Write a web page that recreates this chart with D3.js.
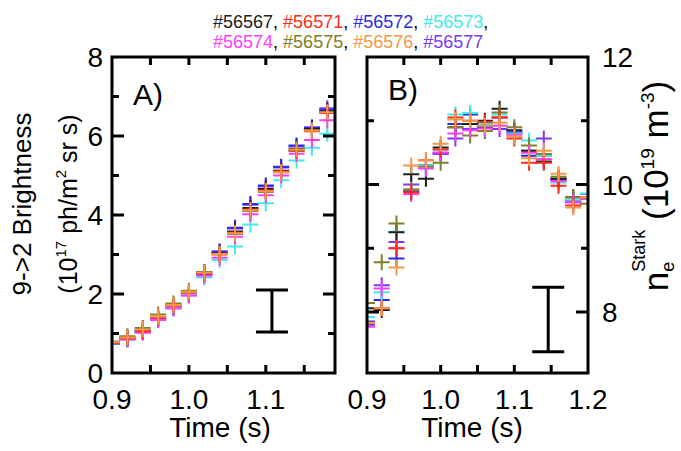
<!DOCTYPE html>
<html><head><meta charset="utf-8">
<script src="https://cdn.jsdelivr.net/npm/d3@7"></script>
<style>body{margin:0;background:#fff}svg{display:block}text{font-family:"Liberation Sans",Arial,sans-serif}</style>
</head><body><svg id="c" width="681" height="451"></svg>
<script>
const shots = ["#56567","#56571","#56572","#56573","#56574","#56575","#56576","#56577"];
const colors = ["#202020","#ff2a1a","#2a2ae8","#40ecec","#ff3cff","#808024","#f49848","#7a38f4"];
const drawOrder = [7,2,3,0,5,4,1,6];
const times = [0.90,0.92,0.94,0.96,0.98,1.00,1.02,1.04,1.06,1.08,1.10,1.12,1.14,1.16,1.18,1.20];
// Panel A: 9->2 brightness (1e17 ph/m2 sr s)
const brightBlack   = [0.78,0.90,1.08,1.42,1.72,2.05,2.55,3.03,3.58,4.18,4.66,5.12,5.68,6.18,6.62,7.20];
const brightRed     = [0.76,0.88,1.06,1.40,1.70,2.03,2.52,3.00,3.55,4.14,4.62,5.10,5.64,6.12,6.58,7.25];
const brightBlue    = [0.74,0.86,1.05,1.36,1.66,1.98,2.50,3.06,3.68,4.28,4.75,5.22,5.76,6.20,6.66,7.28];
const brightCyan    = [0.75,0.87,1.04,1.35,1.66,1.98,2.42,2.86,3.20,3.76,4.30,4.88,5.38,5.70,6.06,6.94];
const brightMagenta = [0.77,0.86,1.02,1.34,1.64,1.96,2.46,2.92,3.45,4.02,4.50,5.00,5.55,5.90,6.40,7.00];
const brightOlive   = [0.80,0.93,1.14,1.48,1.76,2.08,2.56,3.02,3.52,4.10,4.58,5.08,5.62,6.14,6.58,7.10];
const brightOrange  = [0.78,0.90,1.10,1.43,1.72,2.06,2.54,3.01,3.54,4.12,4.60,5.08,5.66,6.14,6.60,7.34];
const brightPurple  = [0.74,0.85,1.04,1.36,1.64,1.97,2.50,3.08,3.66,4.26,4.72,5.20,5.74,6.22,6.70,7.15];
// Panel B: Stark density (1e19 m^-3)
const neBlack   = [8.06,8.03,9.25,10.16,10.09,10.58,10.90,10.95,11.00,11.19,10.85,10.53,10.36,10.09,9.80,9.78];
const neRed     = [7.83,8.06,9.00,9.88,10.38,10.55,11.05,11.00,10.98,11.05,10.72,10.34,10.34,9.98,9.67,9.80];
const neBlue    = [7.85,8.19,8.84,9.90,10.30,10.50,10.95,11.10,10.90,11.05,10.82,10.45,10.45,10.09,9.75,10.00];
const neCyan    = [7.92,8.31,9.26,9.92,10.30,10.55,11.10,11.12,10.95,11.10,10.80,10.69,10.45,10.03,9.76,9.86];
const neMagenta = [7.77,8.37,9.00,9.85,10.25,10.50,10.80,10.85,10.88,10.92,10.78,10.50,10.40,10.05,9.72,9.78];
const neOlive   = [8.14,8.78,9.39,9.92,10.28,10.34,10.90,10.77,10.84,11.13,10.90,10.61,10.48,10.12,9.80,9.70];
const neOrange  = [7.83,8.06,8.70,10.30,10.38,10.64,11.02,11.00,10.92,10.97,10.75,10.41,10.53,10.17,9.64,9.80];
const nePurple  = [7.80,8.42,9.10,10.00,10.30,10.48,10.72,10.87,10.92,10.87,10.80,10.53,10.72,10.07,9.72,9.85];
const brightSeries = [brightBlack,brightRed,brightBlue,brightCyan,brightMagenta,brightOlive,brightOrange,brightPurple];
const neSeries = [neBlack,neRed,neBlue,neCyan,neMagenta,neOlive,neOrange,nePurple];
// error bars
const errA = {t:1.108, lo:1.04, hi:2.10};
const errB = {t:1.146, lo:7.375, hi:8.39};
const xTickVals = [0.95,1.0,1.05,1.1,1.15];
const xLabelsA = ["0.9","1.0","1.1"];
const xLabelsB = ["0.9","1.0","1.1","1.2"];
const yTicksA = [1,2,3,4,5,6,7];
const yLabelsA = [0,2,4,6,8];
const yTicksB = [8,9,10,11];
const yLabelsB = [8,10,12];

const svg = d3.select("#c");
const yTop = 57, yBot = 373;
const pA = {x0:112, x1:335}, pB = {x0:367, x1:588};
const xA = d3.scaleLinear().domain([0.9,1.19]).range([pA.x0,pA.x1]);
const xB = d3.scaleLinear().domain([0.9,1.2]).range([pB.x0,pB.x1]);
const yA = d3.scaleLinear().domain([0,8]).range([yBot,yTop]);
const yB = d3.scaleLinear().domain([8,12]).range([312,yTop]);

const defs = svg.append("defs");
defs.append("clipPath").attr("id","clA").append("rect").attr("x",pA.x0).attr("y",yTop).attr("width",pA.x1-pA.x0).attr("height",yBot-yTop);
defs.append("clipPath").attr("id","clB").append("rect").attr("x",pB.x0).attr("y",yTop).attr("width",pB.x1-pB.x0).attr("height",yBot-yTop);

function plus(g, x, y, color){
  const s = 8;
  g.append("path").attr("d",`M${x-s},${y}H${x+s}M${x},${y-s}V${y+s}`)
   .attr("stroke",color).attr("stroke-width",2).attr("fill","none");
}
function panel(p, xs, ys, series, clip, yt, err){
  const g = svg.append("g").attr("clip-path",`url(#${clip})`);
  drawOrder.forEach(i=>{
    series[i].forEach((v,j)=>plus(g, xs(times[j]), ys(v), colors[i]));
  });
  const f = svg.append("g");
  const ex = xs(err.t);
  f.append("path").attr("d",`M${ex-16},${ys(err.hi)}H${ex+16}M${ex},${ys(err.hi)}V${ys(err.lo)}M${ex-16},${ys(err.lo)}H${ex+16}`)
    .attr("stroke","#000").attr("stroke-width",3).attr("fill","none");
  xTickVals.forEach(t=>{
    f.append("line").attr("x1",xs(t)).attr("x2",xs(t)).attr("y1",yBot).attr("y2",yBot-8).attr("stroke","#000").attr("stroke-width",3);
    f.append("line").attr("x1",xs(t)).attr("x2",xs(t)).attr("y1",yTop).attr("y2",yTop+8).attr("stroke","#000").attr("stroke-width",3);
  });
  yt.forEach(v=>{
    const len = (v%2===0)?12:7;
    f.append("line").attr("x1",p.x0).attr("x2",p.x0+len).attr("y1",ys(v)).attr("y2",ys(v)).attr("stroke","#000").attr("stroke-width",3);
    f.append("line").attr("x1",p.x1).attr("x2",p.x1-len).attr("y1",ys(v)).attr("y2",ys(v)).attr("stroke","#000").attr("stroke-width",3);
  });
  f.append("rect").attr("x",p.x0).attr("y",yTop).attr("width",p.x1-p.x0).attr("height",yBot-yTop)
    .attr("fill","none").attr("stroke","#000").attr("stroke-width",3);
}
panel(pA, xA, yA, brightSeries, "clA", yTicksA, errA);
panel(pB, xB, yB, neSeries, "clB", yTicksB, errB);

const fs = 28;
xLabelsA.forEach(l=>svg.append("text").attr("x",xA(+l)).attr("y",409).attr("text-anchor","middle").attr("font-size",fs).text(l));
xLabelsB.forEach(l=>svg.append("text").attr("x",xB(+l)).attr("y",409).attr("text-anchor","middle").attr("font-size",fs).text(l));
yLabelsA.forEach(v=>svg.append("text").attr("x",103).attr("y",yA(v)+10).attr("text-anchor","end").attr("font-size",fs).text(v));
yLabelsB.forEach(v=>svg.append("text").attr("x",602).attr("y",yB(v)+10).attr("text-anchor","start").attr("font-size",fs).text(v));
svg.append("text").attr("x",220).attr("y",437).attr("text-anchor","middle").attr("font-size",fs).text("Time (s)");
svg.append("text").attr("x",472).attr("y",437).attr("text-anchor","middle").attr("font-size",fs).text("Time (s)");
svg.append("text").attr("x",133).attr("y",105).attr("font-size",30).text("A)");
svg.append("text").attr("x",388).attr("y",100).attr("font-size",30).text("B)");

const lt1 = svg.append("text").attr("transform","translate(31,204) rotate(-90)").attr("text-anchor","middle").attr("font-size",26).text("9->2 Brightness");
const lt2 = svg.append("text").attr("transform","translate(77,204) rotate(-90)").attr("text-anchor","middle").attr("font-size",25);
lt2.append("tspan").text("(10");
lt2.append("tspan").attr("font-size",15).attr("dy",-11).text("17");
lt2.append("tspan").attr("dy",11).text(" ph/m");
lt2.append("tspan").attr("font-size",15).attr("dy",-11).text("2");
lt2.append("tspan").attr("dy",11).text(" sr s)");
const rt = svg.append("text").attr("transform","translate(668,186) rotate(-90)").attr("text-anchor","middle").attr("font-size",35);
rt.append("tspan").text("n");
rt.append("tspan").attr("font-size",18).attr("dy",6).text("e");
rt.append("tspan").attr("font-size",18).attr("dx",-10).attr("dy",-29).text("Stark");
rt.append("tspan").attr("dy",23).text(" (10");
rt.append("tspan").attr("font-size",19).attr("dy",-14).text("19");
rt.append("tspan").attr("dy",14).text(" m");
rt.append("tspan").attr("font-size",19).attr("dy",-14).text("-3");
rt.append("tspan").attr("dy",14).text(")");

const legLines = [[0,1,2,3],[4,5,6,7]];
legLines.forEach((idx,li)=>{
  const t = svg.append("text").attr("x",213).attr("y",28+li*20).attr("font-size",18);
  idx.forEach((i,k)=>{
    t.append("tspan").attr("fill",colors[i]).text(shots[i]);
    if(li===0 || k<idx.length-1) t.append("tspan").attr("fill","#000").text(k<idx.length-1?", ":",");
  });
});
</script></body></html>
